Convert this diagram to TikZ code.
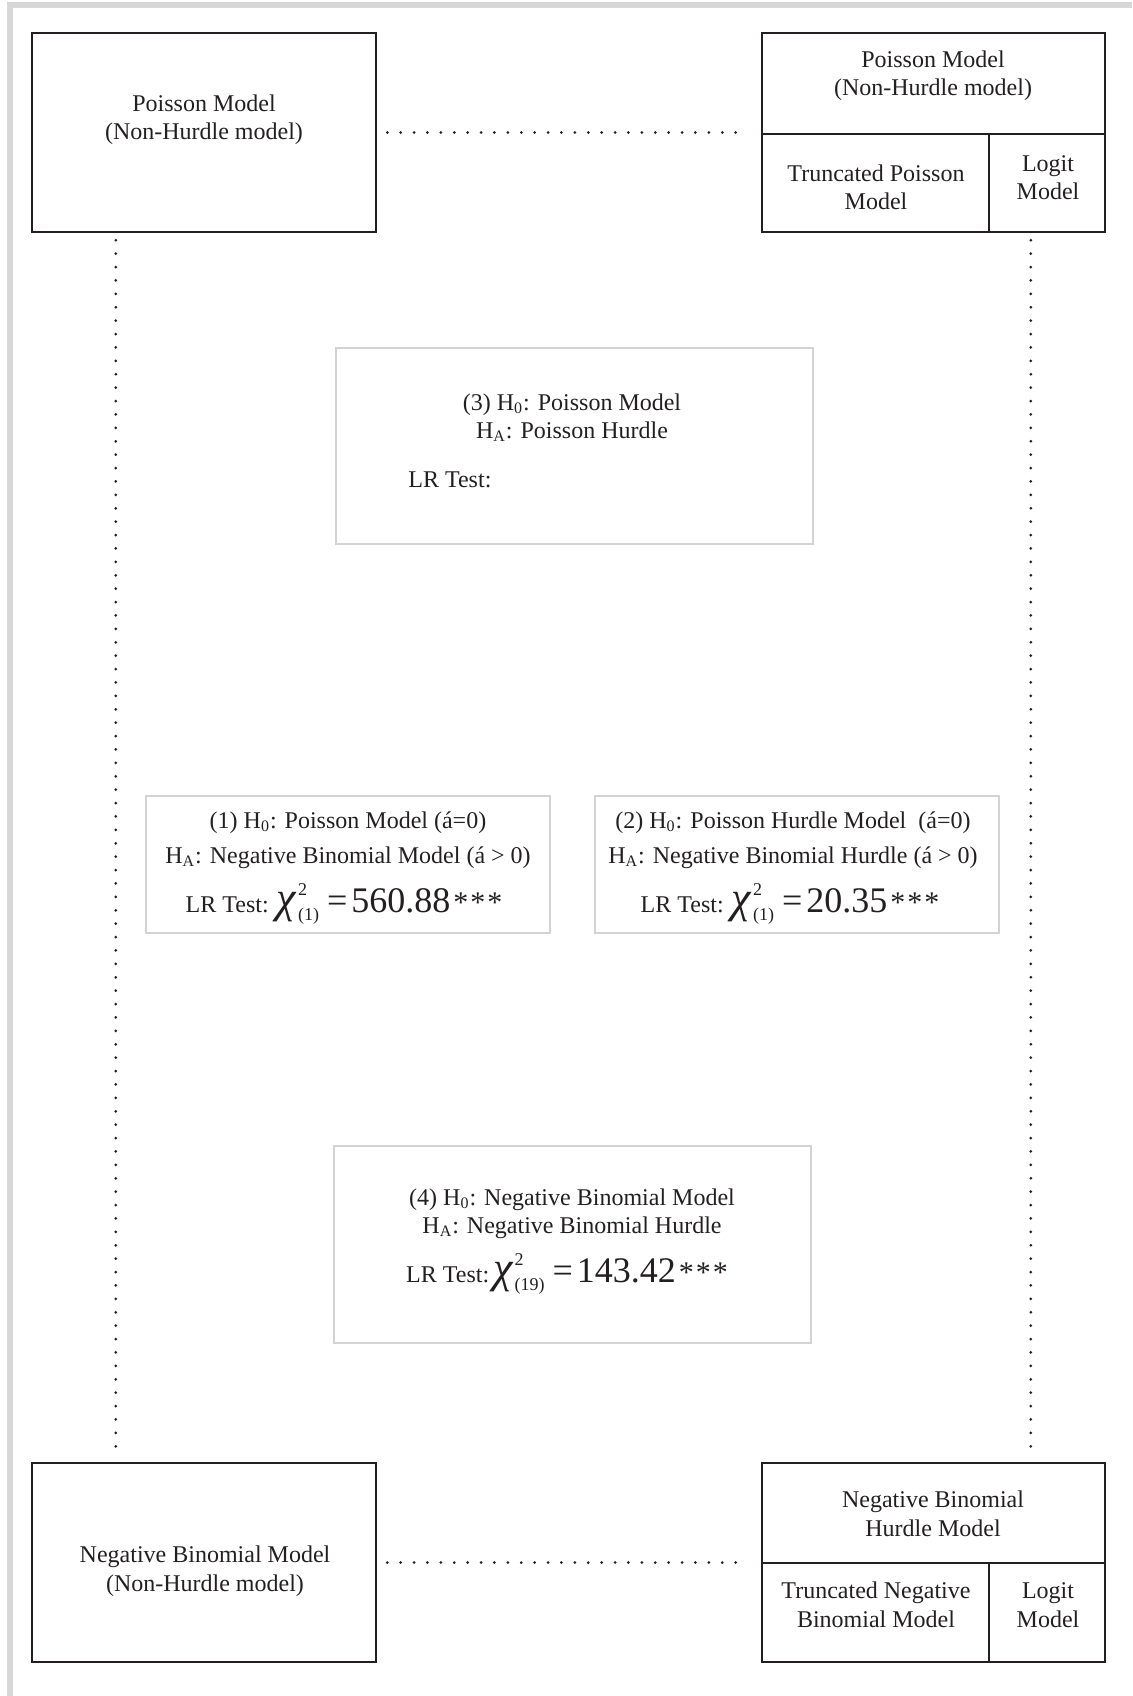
\documentclass[tikz,border=0pt]{standalone}
\usepackage{fontspec}
\setmainfont{Liberation Serif}
\usetikzlibrary{fit}

\definecolor{inkline}{HTML}{231F20}
\definecolor{testgray}{HTML}{D1D3D4}
\definecolor{framegray}{HTML}{D7D7D7}

% chi-square statistic with stars
\newcommand{\lrchi}[2]{%
  {\fontsize{22}{22}\selectfont\itshape χ}\hspace{1pt}%
  \rlap{\raisebox{8.5pt}{\fontsize{9}{9}\selectfont 2}}%
  \raisebox{-4pt}{\fontsize{9}{9}\selectfont (#1)}%
  \hspace{4pt}{\fontsize{18}{18}\selectfont =\hspace{2pt}#2}%
  \hspace{1.5pt}{\fontsize{15}{15}\selectfont *\hspace{1pt}*\hspace{1pt}*}}

\tikzset{
  modelbox/.style={draw=inkline, line width=1.25pt, inner sep=0pt},
  testbox/.style={draw=testgray, line width=1pt, inner sep=0pt},
  modeltext/.style={anchor=base, inner sep=0pt, text=inkline, font=\fontsize{12}{14}\selectfont},
  dotsep/.style={draw=inkline, line width=1.5pt, line cap=round, dash pattern=on 0pt off 6.7pt}
}

\begin{document}
\begin{tikzpicture}[x=0.5pt, y=-0.5pt]
  \useasboundingbox (0,0) rectangle (1132,1696);
  \fill[framegray] (7,2) rectangle (1132,8);
  \fill[framegray] (7,8) rectangle (13,1696);

  % model boxes
  \node[modelbox, fit={(32,33) (376,232)}] (pois) {};
  \node[modelbox, fit={(762,33) (1105,134)}] (poisH) {};
  \node[modelbox, fit={(762,134) (989,232)}] (trpois) {};
  \node[modelbox, fit={(989,134) (1105,232)}] (logitA) {};
  \node[modelbox, fit={(32,1463) (376,1662)}] (nbin) {};
  \node[modelbox, fit={(762,1463) (1105,1563)}] (nbinH) {};
  \node[modelbox, fit={(762,1563) (989,1662)}] (trnbin) {};
  \node[modelbox, fit={(989,1563) (1105,1662)}] (logitB) {};

  \node[modeltext] (poisT1) at (204,112) {Poisson Model};
  \node[modeltext] (poisT2) at (204,140) {(Non-Hurdle model)};
  \node[modeltext] (poisHT1) at (933,68) {Poisson Model};
  \node[modeltext] (poisHT2) at (933,96) {(Non-Hurdle model)};
  \node[modeltext] (trpoisT1) at (876,182) {Truncated Poisson};
  \node[modeltext] (trpoisT2) at (876,210) {Model};
  \node[modeltext] (logitAT1) at (1048,172) {Logit};
  \node[modeltext] (logitAT2) at (1048,200) {Model};
  \node[modeltext] (nbinT1) at (205,1562) {Negative Binomial Model};
  \node[modeltext] (nbinT2) at (205,1591) {(Non-Hurdle model)};
  \node[modeltext] (nbinHT1) at (933,1507) {Negative Binomial};
  \node[modeltext] (nbinHT2) at (933,1536) {Hurdle Model};
  \node[modeltext] (trnbinT1) at (876,1598) {Truncated Negative};
  \node[modeltext] (trnbinT2) at (876,1627) {Binomial Model};
  \node[modeltext] (logitBT1) at (1048,1598) {Logit};
  \node[modeltext] (logitBT2) at (1048,1627) {Model};

  % test boxes
  \node[testbox, fit={(336,348) (813,544)}] (testC) {};
  \node[testbox, fit={(146,796) (550,933)}] (testA) {};
  \node[testbox, fit={(595,796) (999,933)}] (testB) {};
  \node[testbox, fit={(334,1146) (811,1343)}] (testD) {};

  \node[modeltext] (testC1) at (572,410) {(3) H\textsubscript{0}: Poisson Model};
  \node[modeltext] (testC2) at (572,438) {H\textsubscript{A}: Poisson Hurdle};
  \node[modeltext, anchor=base west] (testC3) at (408,487) {LR Test:};

  \node[modeltext] (testA1) at (348,828) {(1) H\textsubscript{0}: Poisson Model (á=0)};
  \node[modeltext] (testA2) at (348,863) {H\textsubscript{A}: Negative Binomial Model (á > 0)};
  \node[modeltext] (testA3) at (344,912) {LR Test: \lrchi{1}{560.88}};

  \node[modeltext] (testB1) at (793,828) {(2) H\textsubscript{0}: Poisson Hurdle Model\ \ (á=0)};
  \node[modeltext] (testB2) at (793,863) {H\textsubscript{A}: Negative Binomial Hurdle (á > 0)};
  \node[modeltext] (testB3) at (790,912) {LR Test: \lrchi{1}{20.35}};

  \node[modeltext] (testD1) at (572,1205) {(4) H\textsubscript{0}: Negative Binomial Model};
  \node[modeltext] (testD2) at (572,1233) {H\textsubscript{A}: Negative Binomial Hurdle};
  \node[modeltext] (testD3) at (567,1282) {LR Test:\hspace{2pt}\lrchi{19}{143.42}};

  % dotted links
  \draw[dotsep, shorten <=5pt, shorten >=6.5pt] (pois.east) -- (pois.east -| trpois.west);
  \draw[dotsep, shorten <=5pt, shorten >=6.5pt] (nbin.east) -- (nbin.east -| trnbin.west);
  \draw[dotsep, shorten <=3.5pt, shorten >=5pt]
    ([xshift=42.5pt]pois.south west) -- ([xshift=42.5pt]nbin.north west);
  \coordinate (rtop) at ([xshift=21.5pt]logitA.south west);
  \coordinate (rbot) at (rtop |- nbinH.north);
  \draw[dotsep, shorten <=3.5pt, shorten >=5pt] (rtop) -- (rbot);
\end{tikzpicture}
\end{document}
